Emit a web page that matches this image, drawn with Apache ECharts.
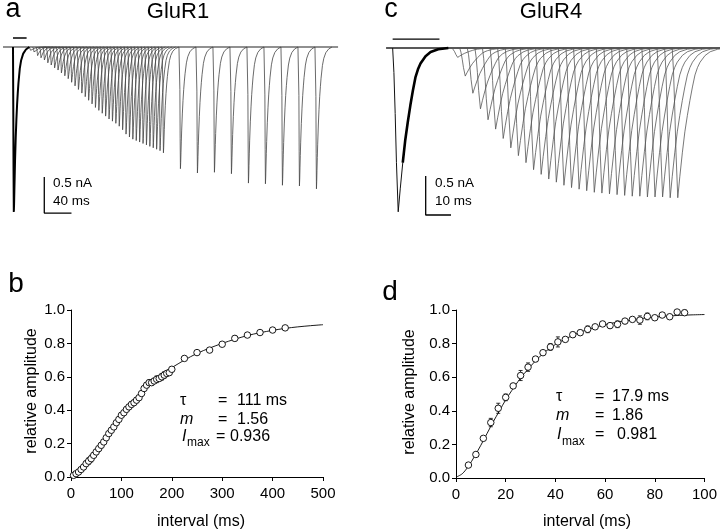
<!DOCTYPE html>
<html><head><meta charset="utf-8">
<script src="https://cdn.jsdelivr.net/npm/echarts@6/dist/echarts.min.js"></script>
<style>html,body{margin:0;padding:0;background:#fff}#c{width:720px;height:531px}</style>
</head><body><div id="c"></div>
<script>
// ---------- Panel b : GluR1 recovery ----------
const intervalsB = [5,10,15,20,25,30,35,40,45,50,55,60,65,70,75,80,85,90,95,100,
  105,110,115,120,125,130,135,140,145,150,155,160,165,170,175,180,185,190,195,200,
  225,250,275,300,325,350,375,400,425];
const relAmpB = [0.010,0.020,0.030,0.045,0.060,0.080,0.095,0.110,0.130,0.150,
  0.170,0.190,0.210,0.235,0.260,0.280,0.300,0.325,0.345,0.370,
  0.385,0.405,0.420,0.435,0.445,0.460,0.475,0.500,0.530,0.550,
  0.565,0.565,0.575,0.585,0.590,0.600,0.610,0.620,0.625,0.645,
  0.710,0.745,0.760,0.795,0.830,0.850,0.865,0.880,0.893];
const errB = [0.005,0.008,0.010,0.012,0.015,0.015,0.020,0.020,0.015,0.015,
  0.015,0.015,0.012,0.012,0.012,0.010,0.010,0.010,0.010,0.010,
  0.010,0.010,0.012,0.015,0.015,0.015,0.012,0.012,0.015,0.015,
  0.015,0.015,0.015,0.020,0.015,0.020,0.020,0.015,0.015,0.015,
  0.012,0.008,0.008,0.010,0.015,0.008,0.008,0.008,0.008];
const fitXB = [0,10,20,30,40,50,60,70,80,90,100,120,140,160,180,200,225,250,275,300,325,350,375,400,425,450,475,500];
const fitYB = [0.0,0.012,0.035,0.065,0.10,0.14,0.185,0.23,0.275,0.32,0.365,0.445,0.515,0.575,0.62,0.655,0.70,0.74,0.772,0.80,0.825,0.847,0.864,0.878,0.89,0.899,0.906,0.912];

// ---------- Panel d : GluR4 recovery ----------
const intervalsD = [5,8,11,14,17,20,23,26,29,32,35,38,41,44,47,50,53,56,59,62,65,68,71,74,77,80,83,86,89,92];
const relAmpD = [0.077,0.14,0.236,0.33,0.415,0.48,0.548,0.61,0.66,0.708,0.746,0.78,0.81,0.825,0.853,0.865,0.885,0.90,0.917,0.907,0.915,0.934,0.944,0.94,0.962,0.954,0.97,0.96,0.988,0.984];
const errD = [0.008,0.010,0.012,0.025,0.030,0.020,0.015,0.030,0.025,0.015,0.012,0.020,0.030,0.012,0.015,0.015,0.020,0.010,0.015,0.015,0.020,0.015,0.010,0.025,0.020,0.012,0.015,0.012,0.010,0.015];
const fitXD = [0,2.5,5,7.5,10,12.5,15,17.5,20,25,30,35,40,45,50,55,60,65,70,75,80,85,90,95,100];
const fitYD = [0.005,0.025,0.07,0.13,0.195,0.265,0.335,0.40,0.465,0.575,0.665,0.74,0.795,0.835,0.868,0.893,0.913,0.928,0.94,0.95,0.958,0.964,0.968,0.971,0.973];

// ---------- Panel a : GluR1 current traces (nA, ms) ----------
const pulseA = 20;          // conditioning pulse duration (ms)
const condAmpA = 2.29;      // conditioning peak (nA)
const testAmpA = [0.06,0.09,0.12,0.15,0.18,0.22,0.25,0.29,0.32,0.36,0.40,0.44,0.49,0.54,0.59,0.64,0.69,0.74,0.79,0.84,
  0.88,0.92,0.96,1.00,1.03,1.06,1.10,1.15,1.21,1.25,1.28,1.30,1.32,1.34,1.36,1.38,1.40,1.42,1.44,1.47,
  1.69,1.75,1.74,1.76,1.89,1.90,1.92,1.93,1.97];
const shapeA_t = [0,0.4,0.8,1.2,1.6,2,2.5,3,4,5,6,7,8,10,12,15,19,24];
const shapeA_v = [0,-0.35,-0.75,-1,-0.95,-0.87,-0.78,-0.69,-0.55,-0.44,-0.35,-0.28,-0.22,-0.13,-0.08,-0.04,-0.015,0];

// ---------- Panel c : GluR4 current traces (nA, ms) ----------
const pulseC = 18.5;
const condAmpC = 2.10;
const testAmpC = [0.12,0.36,0.58,0.78,0.92,1.04,1.16,1.28,1.38,1.47,1.56,1.62,1.68,1.72,1.76,1.79,1.81,1.83,1.85,1.86,1.87,1.88,1.89,1.90,1.90,1.91,1.91,1.91,1.92,1.92];
const shapeC_t = [0,0.5,1,1.5,2.2,3,4,5,6,7,8,9,10,11,13,15,18,22];
const shapeC_v = [0,-0.15,-0.4,-0.7,-1,-0.86,-0.7,-0.56,-0.45,-0.35,-0.26,-0.18,-0.13,-0.095,-0.05,-0.025,-0.008,0];

// ---------- helpers ----------
function wave(onset, amp, tArr, vArr, from){
  const out=[];
  for(let j=0;j<tArr.length;j++){ if(from!==undefined && tArr[j]<from) continue; out.push([onset+tArr[j], amp*vArr[j]]); }
  return out;
}
function traces(intervals, amps, pulse, tArr, vArr){
  const out=[];
  intervals.forEach((iv,k)=>{
    const on = pulse+iv;
    out.push([on-1,0]);
    wave(on, amps[k], tArr, vArr).forEach(p=>out.push(p));
    out.push([on+tArr[tArr.length-1]+1, null]);
  });
  return out;
}
function pairs(xs, ys, es){ return xs.map((x,i)=> es ? [x, ys[i], es[i]] : [x, ys[i]]); }

const FONT = '"Liberation Sans", Arial, sans-serif';
const chart = echarts.init(document.getElementById('c'));

function errRender(params, api){
  const x=api.value(0), y=api.value(1), e=api.value(2);
  if(!(e>0)) return null;
  const t=api.coord([x,y+e]), b=api.coord([x,y-e]);
  const st={stroke:'#000', lineWidth:0.8};
  return {type:'group', children:[
    {type:'line', shape:{x1:t[0],y1:t[1],x2:b[0],y2:b[1]}, style:st},
    {type:'line', shape:{x1:t[0]-2,y1:t[1],x2:t[0]+2,y2:t[1]}, style:st},
    {type:'line', shape:{x1:b[0]-2,y1:b[1],x2:b[0]+2,y2:b[1]}, style:st}
  ]};
}

const axisCommon = {
  axisLine:{onZero:false, lineStyle:{color:'#000', width:1}},
  axisTick:{length:4, lineStyle:{color:'#000'}},
  axisLabel:{color:'#000', fontSize:15, fontFamily:FONT},
  splitLine:{show:false}
};

function txt(x,y,text,size,opts){
  opts=opts||{};
  return {type:'text', x:x, y:y, rotation:opts.rot||0, silent:true,
    style:{text:text, font:(opts.italic?'italic ':'')+size+'px '+FONT, fill:'#000',
      textAlign:opts.align||'left', align:opts.align||'left',
      textVerticalAlign:'middle', verticalAlign:'middle'}};
}

const option = {
  animation:false,
  backgroundColor:'#fff',
  grid:[
    {left:3, top:11, width:342, height:216},
    {left:380, top:9, width:340, height:234},
    {left:71, top:310, width:252, height:167},
    {left:456, top:310, width:252, height:168}
  ],
  xAxis:[
    {gridIndex:0, type:'value', min:-14.7, max:488.2, show:false},
    {gridIndex:1, type:'value', min:-5, max:129.39, show:false},
    Object.assign({gridIndex:2, type:'value', min:0, max:500, interval:100}, axisCommon,
      {axisLabel:Object.assign({}, axisCommon.axisLabel, {margin:9})}),
    Object.assign({gridIndex:3, type:'value', min:0, max:100, interval:20}, axisCommon,
      {axisLabel:Object.assign({}, axisCommon.axisLabel, {margin:9})})
  ],
  yAxis:[
    {gridIndex:0, type:'value', min:-2.5, max:0.5, show:false},
    {gridIndex:1, type:'value', min:-2.5, max:0.5, show:false},
    Object.assign({gridIndex:2, type:'value', min:0, max:1, interval:0.2}, axisCommon,
      {axisLabel:Object.assign({}, axisCommon.axisLabel, {margin:6, formatter:v=>v.toFixed(1)})}),
    Object.assign({gridIndex:3, type:'value', min:0, max:1, interval:0.2}, axisCommon,
      {axisLabel:Object.assign({}, axisCommon.axisLabel, {margin:6, formatter:v=>v.toFixed(1)})})
  ],
  series:[
    // ---- panel a ----
    {type:'line', xAxisIndex:0, yAxisIndex:0, symbol:'none', data:[[-14.7,0],[478,0]],
      lineStyle:{color:'#222', width:1.2}},
    {type:'line', xAxisIndex:0, yAxisIndex:0, symbol:'none', connectNulls:false,
      data:traces(intervalsB, testAmpA, pulseA, shapeA_t, shapeA_v),
      lineStyle:{color:'#444', width:0.8}},
    {type:'line', xAxisIndex:0, yAxisIndex:0, symbol:'none',
      data:wave(0, condAmpA, shapeA_t, shapeA_v), lineStyle:{color:'#000', width:2}},
    {type:'line', xAxisIndex:0, yAxisIndex:0, symbol:'none', data:[[0,0.125],[pulseA,0.125]],
      lineStyle:{color:'#000', width:1.3}},
    {type:'line', xAxisIndex:0, yAxisIndex:0, symbol:'none', data:[[46,-1.806],[46,-2.306],[86,-2.306]],
      lineStyle:{color:'#000', width:1.3}},
    // ---- panel c ----
    {type:'line', xAxisIndex:1, yAxisIndex:1, symbol:'none', data:[[-2.6,0],[129.39,0]],
      lineStyle:{color:'#222', width:1.3}},
    {type:'line', xAxisIndex:1, yAxisIndex:1, symbol:'none', connectNulls:false,
      data:traces(intervalsD, testAmpC, pulseC, shapeC_t, shapeC_v),
      lineStyle:{color:'#555', width:0.8}},
    {type:'line', xAxisIndex:1, yAxisIndex:1, symbol:'none',
      data:wave(0, condAmpC, shapeC_t, shapeC_v), lineStyle:{color:'#111', width:1}},
    {type:'line', xAxisIndex:1, yAxisIndex:1, symbol:'none',
      data:wave(0, condAmpC, shapeC_t, shapeC_v, 4), lineStyle:{color:'#000', width:2.6}},
    {type:'line', xAxisIndex:1, yAxisIndex:1, symbol:'none', data:[[0,0.115],[pulseC,0.115]],
      lineStyle:{color:'#000', width:1.3}},
    {type:'line', xAxisIndex:1, yAxisIndex:1, symbol:'none', data:[[13.06,-1.641],[13.06,-2.141],[23.06,-2.141]],
      lineStyle:{color:'#000', width:1.3}},
    // ---- panel b ----
    {type:'line', xAxisIndex:2, yAxisIndex:2, symbol:'none', smooth:0.3, data:pairs(fitXB, fitYB),
      lineStyle:{color:'#000', width:0.9}, z:2},
    {type:'custom', xAxisIndex:2, yAxisIndex:2, renderItem:errRender, data:pairs(intervalsB, relAmpB, errB), z:3},
    {type:'scatter', xAxisIndex:2, yAxisIndex:2, symbol:'circle', symbolSize:6.5, data:pairs(intervalsB, relAmpB),
      itemStyle:{color:'#fff', borderColor:'#000', borderWidth:0.9, opacity:1}, z:4},
    // ---- panel d ----
    {type:'line', xAxisIndex:3, yAxisIndex:3, symbol:'none', smooth:0.3, data:pairs(fitXD, fitYD),
      lineStyle:{color:'#000', width:0.9}, z:2},
    {type:'custom', xAxisIndex:3, yAxisIndex:3, renderItem:errRender, data:pairs(intervalsD, relAmpD, errD), z:3},
    {type:'scatter', xAxisIndex:3, yAxisIndex:3, symbol:'circle', symbolSize:6.5, data:pairs(intervalsD, relAmpD),
      itemStyle:{color:'#fff', borderColor:'#000', borderWidth:0.9, opacity:1}, z:4}
  ],
  graphic:[
    txt(13,9.5,'a',27,{align:'center'}),
    txt(391,10,'c',27,{align:'center'}),
    txt(16,284,'b',28,{align:'center'}),
    txt(390,292,'d',28,{align:'center'}),
    txt(178,12,'GluR1',22,{align:'center'}),
    txt(551,12,'GluR4',22,{align:'center'}),
    txt(53,183,'0.5 nA',13.5),
    txt(53,201.5,'40 ms',13.5),
    txt(435,183,'0.5 nA',13.5),
    txt(435,201,'10 ms',13.5),
    txt(32,391,'relative amplitude',16,{align:'center', rot:Math.PI/2}),
    txt(410,392,'relative amplitude',16,{align:'center', rot:Math.PI/2}),
    txt(201,522,'interval (ms)',16,{align:'center'}),
    txt(587,522,'interval (ms)',16,{align:'center'}),
    // fit parameters b
    txt(180,401,'τ',16), txt(218,401,'=',16), txt(237,401,'111 ms',16),
    txt(180,420,'m',16,{italic:true}), txt(218,420,'=',16), txt(237,420,'1.56',16),
    txt(182,437,'I',16,{italic:true}), txt(187,443,'max',12), txt(216,437,'=',16), txt(230,437,'0.936',16),
    // fit parameters d
    txt(556,397,'τ',16), txt(595,397,'=',16), txt(612,397,'17.9 ms',16),
    txt(556,416,'m',16,{italic:true}), txt(595,416,'=',16), txt(612,416,'1.86',16),
    txt(557,435,'I',16,{italic:true}), txt(562,442,'max',12), txt(595,435,'=',16), txt(617,435,'0.981',16)
  ]
};
chart.setOption(option);
</script>
</body></html>
